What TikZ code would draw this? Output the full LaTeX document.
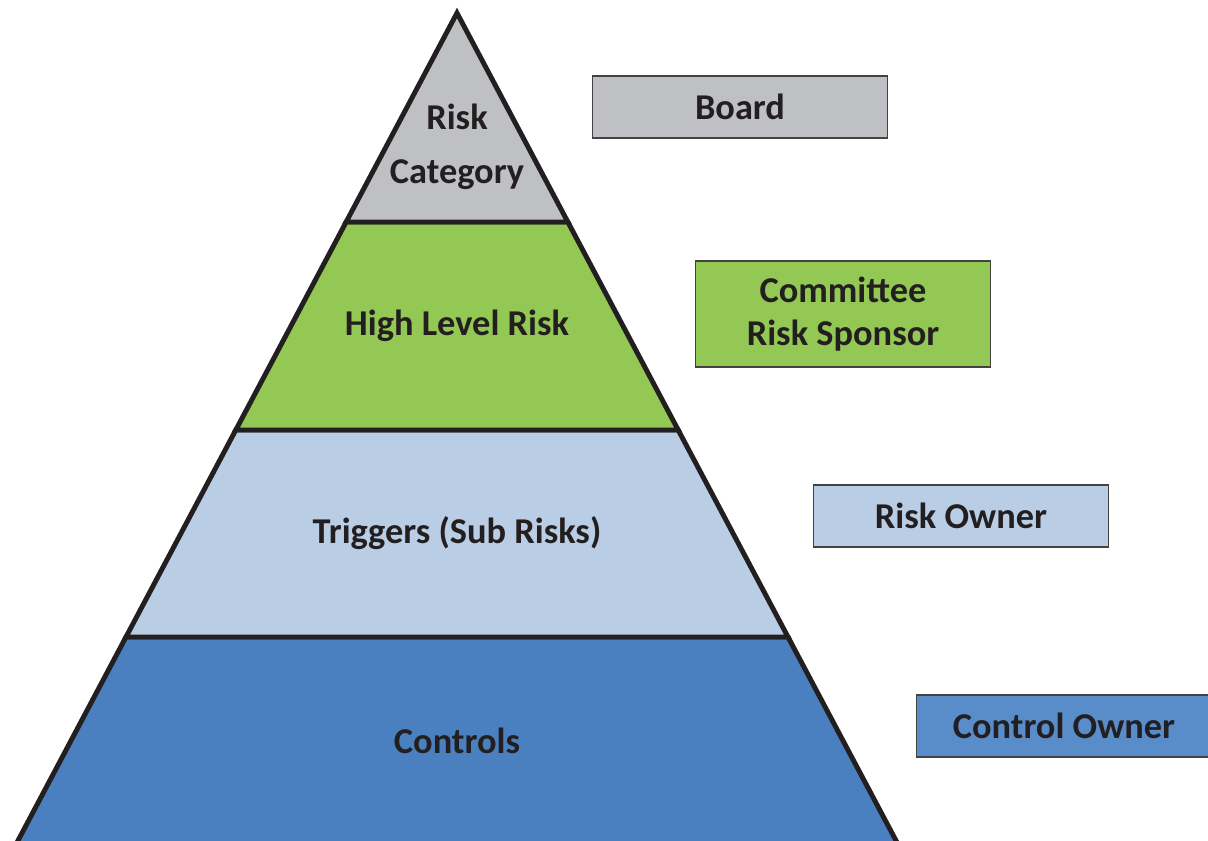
\documentclass[tikz,border=0pt]{standalone}
\usepackage{fontspec}
\setmainfont{Carlito}
\usepackage{tikz}
\usetikzlibrary{calc}
\usepackage{xcolor}
\definecolor{RiskGray}{RGB}{191, 192, 196}
\definecolor{RiskGreen}{RGB}{146, 200, 83}
\definecolor{RiskLight}{RGB}{185, 205, 229}
\definecolor{RiskBlue}{RGB}{74, 128, 191}
\definecolor{OwnerBlue}{RGB}{88, 141, 202}
\definecolor{InkDark}{RGB}{35, 31, 32}
\tikzset{
  band/.style={fill=#1, draw=InkDark, line width=2.8pt, line join=miter},
  lvl/.style={font=\fontsize{20.7}{24.5}\selectfont\bfseries, text=InkDark, align=center},
  role/.style={rectangle, draw=InkDark!85, fill=#1, line width=0.8pt,
               minimum width=5.9cm, minimum height=1.24cm,
               font=\fontsize{20.7}{24.5}\selectfont\bfseries, text=InkDark, align=center},
}

\begin{document}
\begin{tikzpicture}[x=0.02cm, y=-0.02cm]
      \clip (0,0) rectangle (1208,841);

      % outer edges of the pyramid
      \coordinate (apex) at (457,13);
      \coordinate (bl) at (13,850);
      \coordinate (br) at (901,850);
      \coordinate (l1) at ($(apex)!0.2497!(bl)$);
      \coordinate (r1) at ($(apex)!0.2497!(br)$);
      \coordinate (l2) at ($(apex)!0.4982!(bl)$);
      \coordinate (r2) at ($(apex)!0.4982!(br)$);
      \coordinate (l3) at ($(apex)!0.7455!(bl)$);
      \coordinate (r3) at ($(apex)!0.7455!(br)$);

      \draw[band=RiskBlue]  (l3) -- (r3) -- (br) -- (bl) -- cycle;
      \draw[band=RiskLight] (l2) -- (r2) -- (r3) -- (l3) -- cycle;
      \draw[band=RiskGreen] (l1) -- (r1) -- (r2) -- (l2) -- cycle;
      \draw[band=RiskGray]  (apex) -- (r1) -- (l1) -- cycle;

      \node[lvl] (cat)   at (457,147) {Risk\\[6pt]Category};
      \node[lvl] (high)  at (457,326) {High Level Risk};
      \node[lvl] (trig)  at (457,533) {Triggers (Sub Risks)};
      \node[lvl] (ctrl)  at (457,741) {Controls};

      % who owns each level
      \node[role=RiskGray]  (board)     at (740,107) {Board};
      \node[role=RiskGreen, minimum height=2.12cm] (committee) at (843,314)
           {Committee\\Risk Sponsor};
      \node[role=RiskLight] (owner)     at (961,516) {Risk Owner};
      \node[role=OwnerBlue] (ctrlowner) at (1064,726) {Control Owner};
    \end{tikzpicture}
\end{document}
